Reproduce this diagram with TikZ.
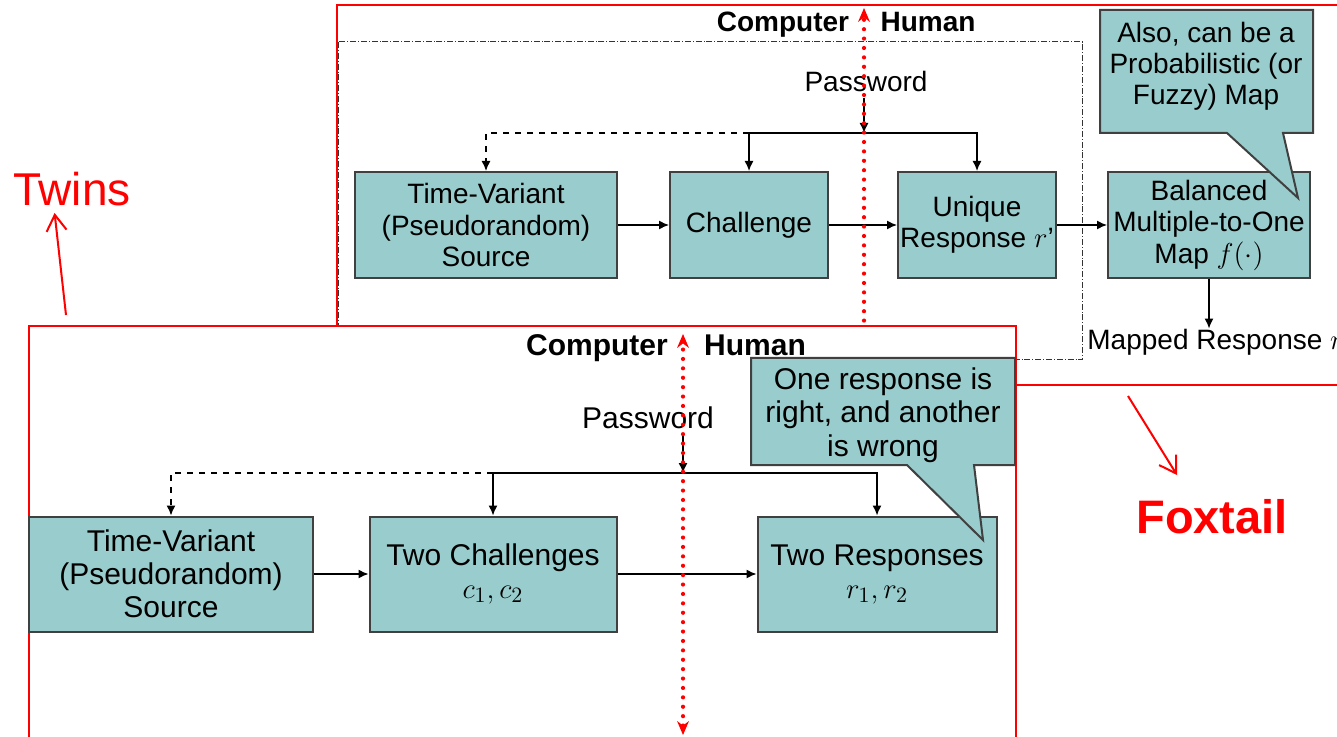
\documentclass[tikz,border=0pt]{standalone}
\usepackage{fontspec}
\setmainfont{Liberation Sans}
\usetikzlibrary{arrows.meta,positioning}
\definecolor{boxteal}{RGB}{153,204,204}
\definecolor{boxline}{RGB}{64,64,64}

\begin{document}
\begin{tikzpicture}[x=0.5pt, y=-0.5pt,
  box/.style={draw=boxline, line width=1pt, fill=boxteal, align=center, inner sep=0pt, minimum height=53pt, font=\fontsize{14}{15.75}\selectfont},
  bigbox/.style={box, minimum height=57.5pt, font=\fontsize{15}{16.5}\selectfont},
  note/.style={draw=boxline, line width=1pt, fill=boxteal},
  arr/.style={-{Latex[length=5pt,width=4.5pt]}, line width=0.7pt},
  side/.style={anchor=base, font=\bfseries\fontsize{14}{16}\selectfont},
  divider/.style={red, line width=2.1pt, dash pattern=on 0pt off 4.7pt, line cap=round},
  frame/.style={red, line width=0.6pt},
  pointer/.style={red, line width=1pt, -{Straight Barb[length=8pt,width=10pt]}}
]
  \useasboundingbox (0,0) rectangle (1337,737);

  % upper panel: the foxtail scheme
  \draw[frame] (337,5) rectangle (1345,385);
  \draw[densely dashdotted, line width=0.5pt, black!80] (338,42) rectangle (1082,360);

  \node[side] (comp1) at (783,32) {Computer};
  \node[side] (hum1) at (928,32) {Human};
  \node[font=\fontsize{14}{16}\selectfont] (pw1) at (866,81) {Password};

  \node[box, minimum width=131pt] (src1) at (486,225) {Time-Variant\\(Pseudorandom)\\Source};
  \node[box, minimum width=79pt] (chal1) at (749,225) {Challenge};
  \node[box, minimum width=79pt] (resp1) at (977,225) {Unique\\Response $r$'};
  \node[box, minimum width=101pt] (map1) at (1209,225) {Balanced\\Multiple-to-One\\Map $f(\cdot)$};
  \node[anchor=west, inner sep=0pt, font=\fontsize{14}{16}\selectfont] (mapped) at (1087,342) {Mapped Response $r$};

  \coordinate (bus1) at (864,133);
  \draw[arr] (bus1 |- pw1.south) -- (bus1);
  \draw[arr, dashed] (chal1.north |- bus1) -| (src1.north);
  \draw[arr] (chal1.north |- bus1) -- (chal1.north);
  \draw[arr] (chal1.north |- bus1) -| (resp1.north);
  \draw[arr] (src1) -- (chal1);
  \draw[arr] (chal1) -- (resp1);
  \draw[arr] (resp1) -- (map1);
  \draw[arr] (map1.south) -- (map1.south |- mapped.north);

  \coordinate (up1) at (864,8);
  \coordinate (low1) at (864,330);
  \draw[divider, -{Stealth[length=7pt,width=6pt,line width=0pt]}] (low1) -- (up1);

  \filldraw[note] (1100,10) -- (1313,10) -- (1313,133) -- (1283,133) -- (1298,198)
    -- (1227,133) -- (1100,133) -- cycle;
  \node[align=center, font=\fontsize{14}{15.5}\selectfont] (note1) at (1206,66) {Also, can be a\\Probabilistic (or\\Fuzzy) Map};

  % lower panel: the twins scheme, laid over the upper one
  \fill[white] (29,326) rectangle (1016,745);
  \draw[frame] (29,326) rectangle (1016,745);

  \node[side, font=\bfseries\fontsize{15}{17}\selectfont] (comp2) at (597,356) {Computer};
  \node[side, font=\bfseries\fontsize{15}{17}\selectfont] (hum2) at (755,356) {Human};
  \node[font=\fontsize{15}{17}\selectfont] (pw2) at (648,418) {Password};

  \node[bigbox, minimum width=142pt] (src2) at (171,574) {Time-Variant\\(Pseudorandom)\\Source};
  \node[bigbox, minimum width=123.5pt] (chal2) at (493,574) {Two Challenges\\$c_1, c_2$};
  \node[bigbox, minimum width=119.5pt] (resp2) at (877,574) {Two Responses\\$r_1, r_2$};

  \coordinate (bus2) at (683,473);
  \draw[arr] (bus2 |- pw2.south) -- (bus2);
  \draw[arr, dashed] (chal2.north |- bus2) -| (src2.north);
  \draw[arr] (chal2.north |- bus2) -- (chal2.north);
  \draw[arr] (chal2.north |- bus2) -| (resp2.north);
  \draw[arr] (src2) -- (chal2);
  \draw[arr] (chal2) -- (resp2);

  \coordinate (up2) at (683,334);
  \coordinate (low2) at (683,735);
  \draw[divider, {Stealth[length=7pt,width=6pt,line width=0pt]}-{Stealth[length=7pt,width=6pt,line width=0pt]}] (low2) -- (up2);

  \filldraw[note] (751,358) -- (1015,358) -- (1015,465) -- (974,465) -- (983,540)
    -- (907,465) -- (751,465) -- cycle;
  \node[align=center, font=\fontsize{15}{16.75}\selectfont] (note2) at (883,415) {One response is\\right, and another\\is wrong};

  % red tags
  \node[red, font=\fontsize{23}{26}\selectfont] (twins) at (72,189) {Twins};
  \coordinate (twinsfoot) at (66,315);
  \draw[pointer] (twinsfoot) -- (twins.234);

  \node[red, font=\bfseries\fontsize{23.5}{26}\selectfont] (foxtail) at (1212,517) {Foxtail};
  \coordinate (foxfoot) at (1128,396);
  \coordinate (foxtip) at (1177,475);
  \draw[pointer] (foxfoot) -- (foxtip);
\end{tikzpicture}
\end{document}
